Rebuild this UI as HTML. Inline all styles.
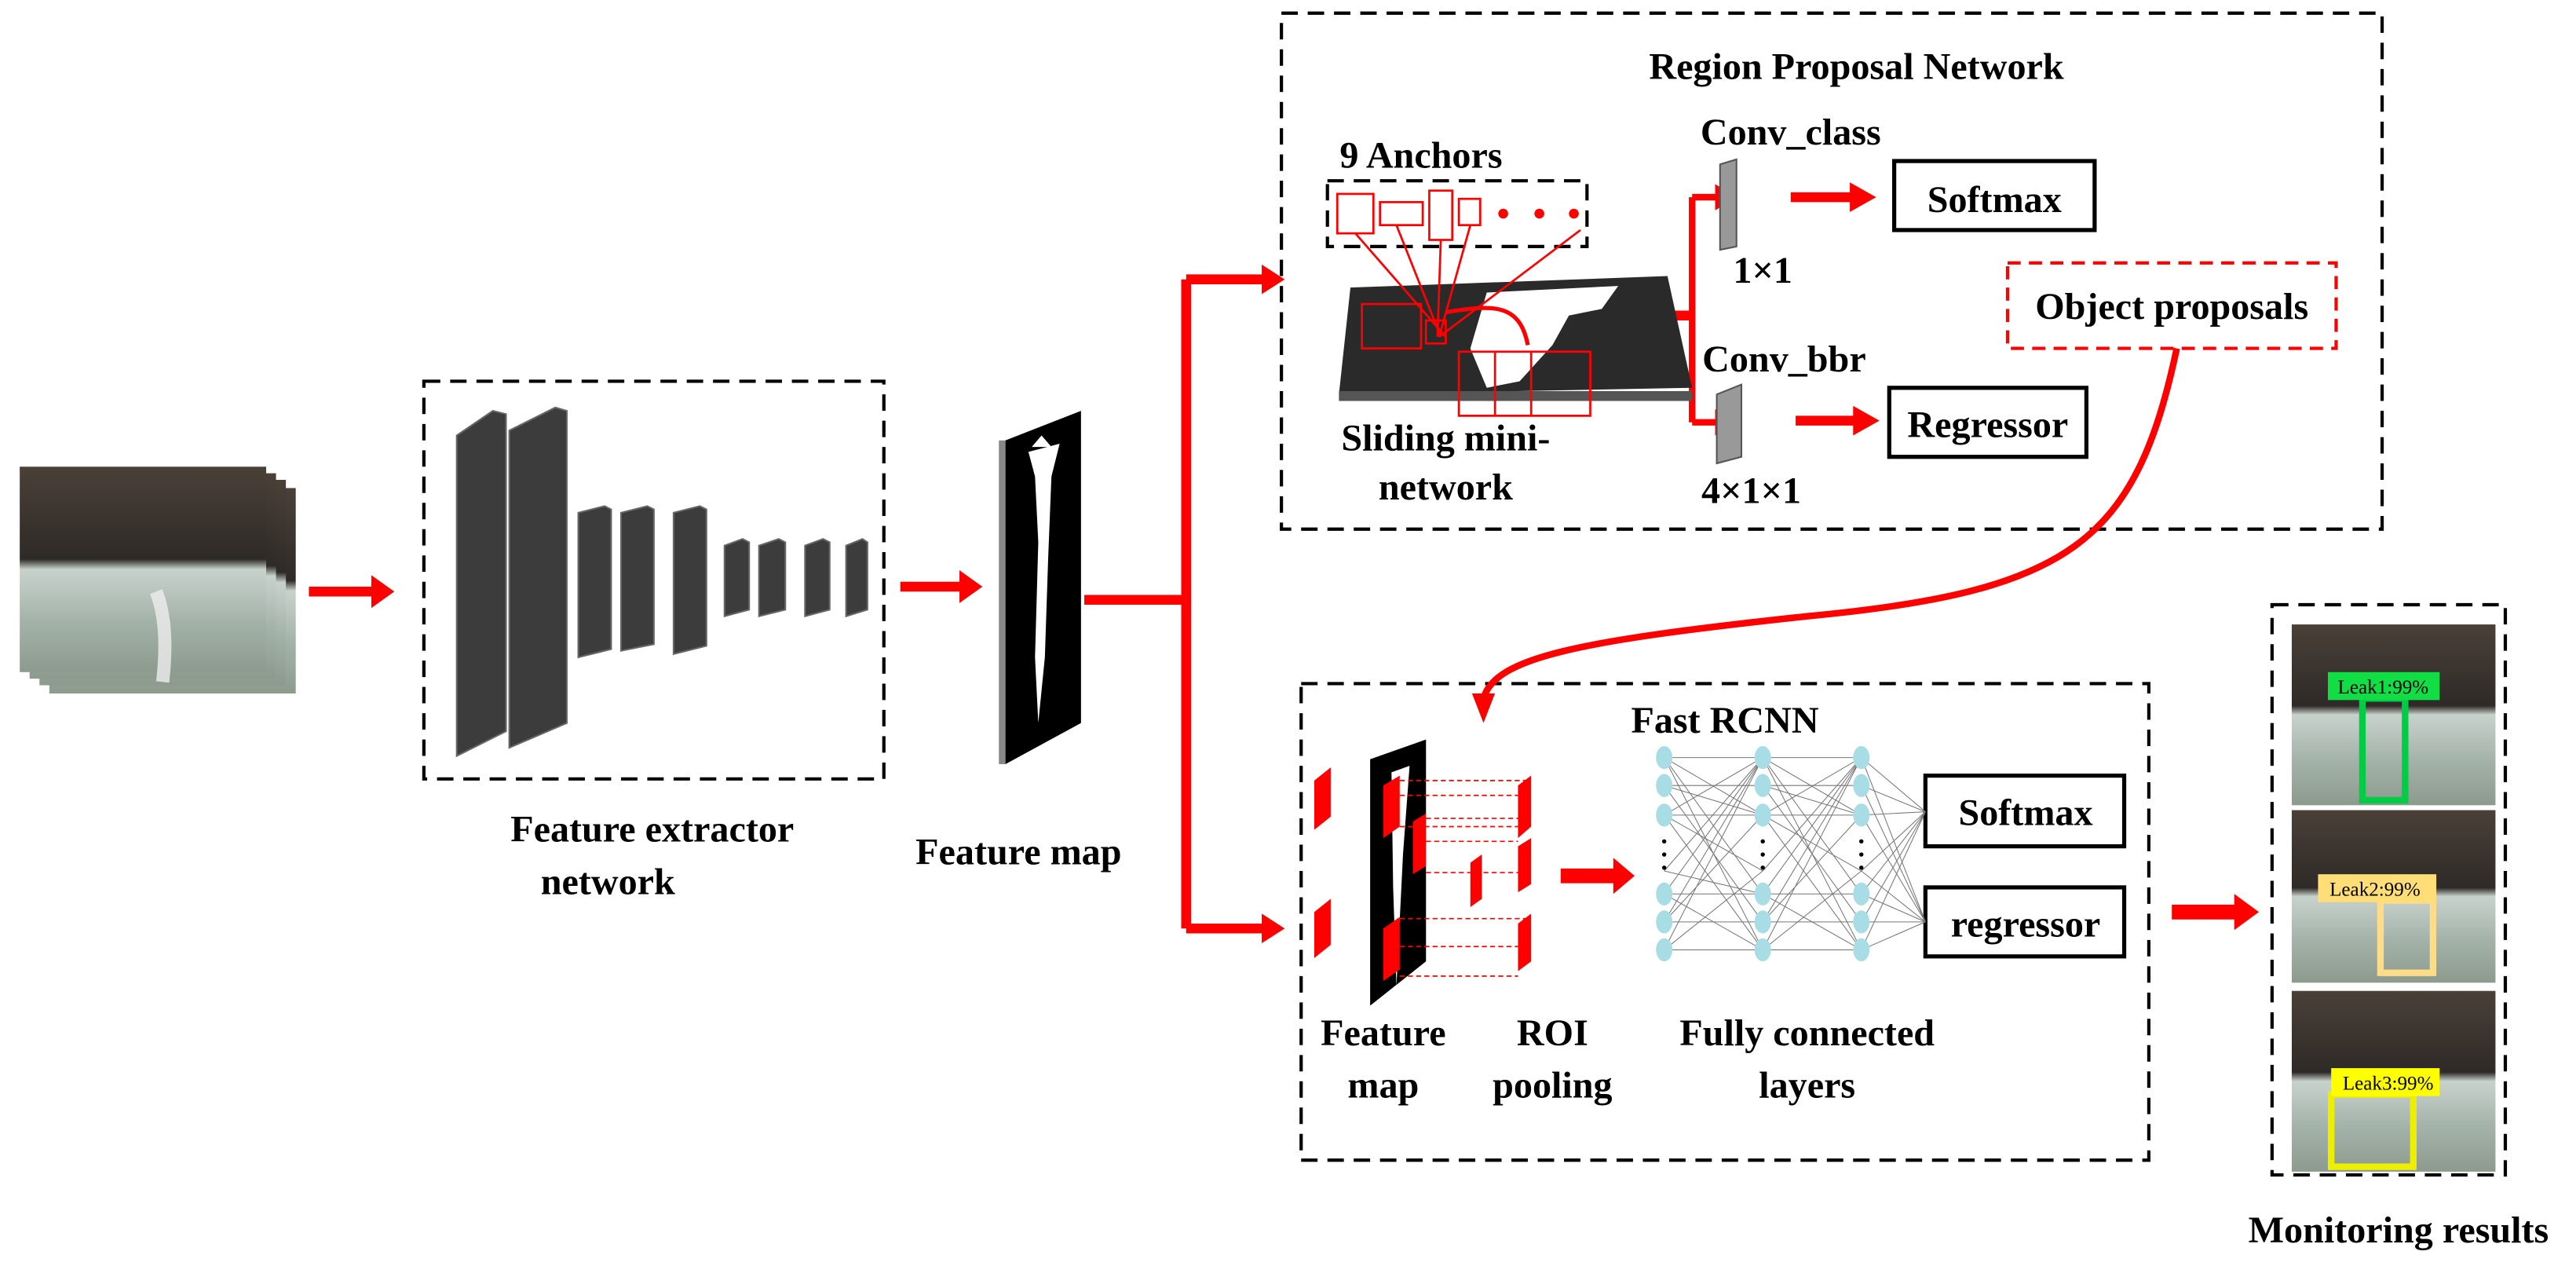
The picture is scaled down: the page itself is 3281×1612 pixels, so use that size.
<!DOCTYPE html>
<html><head><meta charset="utf-8"><style>html,body{margin:0;padding:0;background:#fff}svg{display:block}
text{font-family:"Liberation Serif","DejaVu Serif",serif;font-weight:bold}
.n{font-weight:normal}</style></head>
<body>
<svg width="3281" height="1612" viewBox="0 0 1568 770.4" xmlns="http://www.w3.org/2000/svg">
<defs>
<linearGradient id="ph" x1="0" y1="0" x2="0" y2="1">
<stop offset="0" stop-color="#4a4038"/><stop offset="0.45" stop-color="#2e2a27"/><stop offset="0.5" stop-color="#c8d2cc"/><stop offset="0.75" stop-color="#a4b3aa"/><stop offset="1" stop-color="#8d9a8e"/></linearGradient>
</defs>
<g fill="none" stroke="#000" stroke-width="2" stroke-dasharray="10,6">
<rect x="258" y="232" width="280" height="242"/>
<rect x="780" y="8" width="670" height="314"/>
<rect x="792" y="416" width="516" height="290"/>
<rect x="1383" y="368" width="142" height="347"/>
<rect x="808" y="110" width="158" height="40"/>
</g>
<rect x="30" y="297" width="150" height="125" fill="url(#ph)"/>
<rect x="24" y="292" width="150" height="125" fill="url(#ph)"/>
<rect x="18" y="288" width="150" height="125" fill="url(#ph)"/>
<rect x="12" y="284" width="150" height="125" fill="url(#ph)"/>
<path d="M95,360 q8,20 4,55" stroke="#eee" stroke-width="8" fill="none" opacity="0.8"/>
<g stroke="#f00" stroke-width="6" fill="none">
<line x1="188" y1="360" x2="228" y2="360"/>
<line x1="548" y1="357" x2="586" y2="357"/>
<polyline points="660,365 722,365"/>
<line x1="722" y1="170" x2="722" y2="565"/>
<line x1="722" y1="170" x2="770" y2="170"/>
<line x1="722" y1="565" x2="770" y2="565"/>
<line x1="1000" y1="192" x2="1030" y2="192"/>
<line x1="1030" y1="120" x2="1030" y2="257" stroke-width="4"/>
<line x1="1030" y1="120" x2="1046" y2="120" stroke-width="4"/>
<line x1="1030" y1="257" x2="1046" y2="257" stroke-width="4"/>
<line x1="1090" y1="120" x2="1128" y2="120"/>
<line x1="1093" y1="256" x2="1130" y2="256"/>
<line x1="950" y1="533" x2="984" y2="533" stroke-width="9"/>
<line x1="1322" y1="555" x2="1362" y2="555" stroke-width="9"/>
<path d="M1325,212 C1300,330 1260,360 1100,375 C960,390 910,400 903,425" stroke-width="4"/>
</g>
<g fill="#f00">
<path d="M226,350 L240,360 L226,370z"/><path d="M584,347 L598,357 L584,367z"/>
<path d="M768,161 L782,170 L768,179z"/><path d="M768,556 L782,565 L768,574z"/>
<path d="M1044,112 L1057,120 L1044,128z"/><path d="M1044,249 L1057,257 L1044,265z"/>
<path d="M1126,111 L1142,120 L1126,129z"/><path d="M1128,247 L1144,256 L1128,265z"/>
<path d="M982,522 L995,533 L982,544z"/><path d="M1360,544 L1375,555 L1360,566z"/>
<path d="M896,422 L903,440 L910,422z"/>
</g>
<g fill="#3c3c3c" stroke="#666" stroke-width="1">
<path d="M278,265 L300,250 L308,252 L308,445 L278,460z"/>
<path d="M310,262 L338,248 L345,250 L345,440 L310,455z"/>
<path d="M352,312 L368,308 L372,310 L372,395 L352,400z"/>
<path d="M378,312 L394,308 L398,310 L398,392 L378,396z"/>
<path d="M410,312 L426,308 L430,310 L430,393 L410,398z"/>
<path d="M441,332 L452,328 L456,330 L456,371 L441,375z"/>
<path d="M462,332 L474,328 L478,330 L478,371 L462,375z"/>
<path d="M490,332 L501,328 L505,330 L505,371 L490,375z"/>
<path d="M515,332 L525,328 L528,330 L528,371 L515,375z"/>
</g>
<path d="M612,268 L658,250 L658,440 L612,465z" fill="#000"/>
<rect x="608" y="268" width="4" height="197" fill="#888"/>
<path d="M626,275 L645,270 L640,290 L638,340 L636,400 L632,440 L630,400 L632,330 L630,290z" fill="#fff"/>
<path d="M628,272 L634,265 L640,272z" fill="#fff"/>
<path d="M822,175 L1015,168 L1030,236 L815,240z" fill="#2a2a2a"/>
<rect x="815" y="238" width="215" height="6" fill="#555"/>
<path d="M905,178 L985,174 L975,188 L955,192 L945,210 L925,232 L905,236 L895,212z" fill="#fff"/>
<g fill="none" stroke="#f00" stroke-width="1.3">
<rect x="814" y="118" width="22" height="24"/><rect x="840" y="123" width="26" height="14"/><rect x="870" y="116" width="14" height="30"/><rect x="888" y="121" width="13" height="16"/>
<rect x="829" y="185" width="36" height="27"/><rect x="868" y="195" width="12" height="14"/>
<rect x="888" y="214" width="80" height="39"/><line x1="910" y1="214" x2="910" y2="253"/><line x1="932" y1="214" x2="932" y2="253"/>
<line x1="825" y1="142" x2="880" y2="205"/><line x1="850" y1="137" x2="877" y2="205"/><line x1="877" y1="146" x2="875" y2="205"/><line x1="895" y1="137" x2="876" y2="205"/><line x1="962" y1="140" x2="876" y2="205"/>
<path d="M880,190 C910,185 925,185 930,210" stroke-width="2.5"/>
</g>
<g fill="#f00"><circle cx="915" cy="130" r="3"/><circle cx="937" cy="130" r="3"/><circle cx="958" cy="130" r="3"/></g>
<path d="M1047,100 L1057,97 L1057,150 L1047,152z" fill="#999" stroke="#555"/>
<path d="M1045,240 L1060,234 L1060,278 L1045,282z" fill="#999" stroke="#555"/>
<g fill="#fff" stroke="#000" stroke-width="2.5">
<rect x="1153" y="98" width="122" height="42"/><rect x="1150" y="236" width="120" height="42"/>
<rect x="1172" y="472" width="121" height="43"/><rect x="1172" y="540" width="121" height="42"/>
</g>
<rect x="1222" y="160" width="200" height="52" fill="none" stroke="#f00" stroke-width="2" stroke-dasharray="8,5"/>
<path d="M834,462 L868,450 L868,585 L834,612z" fill="#000"/>
<path d="M847,470 L858,466 L854,520 L850,600 L848,540z" fill="#fff"/>
<g fill="#f00">
<path d="M800,475 L810,467 L810,497 L800,505z"/><path d="M800,555 L810,547 L810,575 L800,583z"/>
<path d="M842,478 L852,472 L852,503 L842,510z"/><path d="M860,500 L868,495 L868,527 L860,532z"/>
<path d="M842,565 L852,558 L852,590 L842,597z"/>
<path d="M924,478 L932,472 L932,503 L924,510z"/><path d="M924,515 L932,510 L932,538 L924,543z"/><path d="M895,525 L902,520 L902,547 L895,552z"/><path d="M924,562 L932,556 L932,585 L924,591z"/>
</g>
<g stroke="#f00" stroke-width="0.8" stroke-dasharray="3,2" fill="none">
<line x1="852" y1="475" x2="932" y2="475"/><line x1="852" y1="503" x2="924" y2="503"/><line x1="852" y1="484" x2="924" y2="484"/>
<line x1="868" y1="498" x2="932" y2="498"/><line x1="868" y1="531" x2="924" y2="531"/><line x1="868" y1="512" x2="924" y2="512"/>
<line x1="852" y1="559" x2="932" y2="559"/><line x1="852" y1="594" x2="924" y2="594"/><line x1="852" y1="576" x2="924" y2="576"/>
</g>
<g stroke="#777" stroke-width="0.5">
<path d="M1013,461 L1073,496 M1013,461 L1073,544 M1013,461 L1073,578 M1013,496 L1073,461 M1013,496 L1073,530 M1013,496 L1073,578 M1013,530 L1073,461 M1013,530 L1073,544 M1013,544 L1073,461 M1013,544 L1073,578 M1013,561 L1073,496 M1013,561 L1073,461 M1013,578 L1073,461 M1013,578 L1073,530 M1013,478 L1073,561 M1013,478 L1073,496 M1013,461 L1073,461 M1013,478 L1073,478 M1013,496 L1073,496 M1013,544 L1073,544 M1013,561 L1073,561 M1013,578 L1073,578"/>
<path d="M1073,461 L1133,496 M1073,461 L1133,544 M1073,461 L1133,578 M1073,496 L1133,461 M1073,496 L1133,530 M1073,496 L1133,578 M1073,530 L1133,461 M1073,544 L1133,461 M1073,544 L1133,578 M1073,561 L1133,496 M1073,561 L1133,461 M1073,578 L1133,461 M1073,578 L1133,530 M1073,478 L1133,561 M1073,478 L1133,496 M1073,461 L1133,461 M1073,478 L1133,478 M1073,496 L1133,496 M1073,544 L1133,544 M1073,561 L1133,561 M1073,578 L1133,578"/>
<path d="M1133,461 L1172,494 M1133,478 L1172,494 M1133,496 L1172,494 M1133,530 L1172,494 M1133,544 L1172,494 M1133,561 L1172,494 M1133,578 L1172,494 M1133,461 L1172,561 M1133,478 L1172,561 M1133,496 L1172,561 M1133,530 L1172,561 M1133,544 L1172,561 M1133,561 L1172,561 M1133,578 L1172,561"/>
</g>
<g fill="#a8dde6">
<ellipse cx="1013" cy="461" rx="5" ry="7"/><ellipse cx="1013" cy="478" rx="5" ry="7"/><ellipse cx="1013" cy="496" rx="5" ry="7"/><ellipse cx="1013" cy="544" rx="5" ry="7"/><ellipse cx="1013" cy="561" rx="5" ry="7"/><ellipse cx="1013" cy="578" rx="5" ry="7"/>
<ellipse cx="1073" cy="461" rx="5" ry="7"/><ellipse cx="1073" cy="478" rx="5" ry="7"/><ellipse cx="1073" cy="496" rx="5" ry="7"/><ellipse cx="1073" cy="544" rx="5" ry="7"/><ellipse cx="1073" cy="561" rx="5" ry="7"/><ellipse cx="1073" cy="578" rx="5" ry="7"/>
<ellipse cx="1133" cy="461" rx="5" ry="7"/><ellipse cx="1133" cy="478" rx="5" ry="7"/><ellipse cx="1133" cy="496" rx="5" ry="7"/><ellipse cx="1133" cy="544" rx="5" ry="7"/><ellipse cx="1133" cy="561" rx="5" ry="7"/><ellipse cx="1133" cy="578" rx="5" ry="7"/>
</g>
<g fill="#000"><circle cx="1013" cy="512" r="1.3"/><circle cx="1013" cy="520" r="1.3"/><circle cx="1013" cy="528" r="1.3"/><circle cx="1073" cy="512" r="1.3"/><circle cx="1073" cy="520" r="1.3"/><circle cx="1073" cy="528" r="1.3"/><circle cx="1133" cy="512" r="1.3"/><circle cx="1133" cy="520" r="1.3"/><circle cx="1133" cy="528" r="1.3"/></g>
<rect x="1395" y="380" width="124" height="110" fill="url(#ph)"/>
<rect x="1395" y="493" width="124" height="105" fill="url(#ph)"/>
<rect x="1395" y="603" width="124" height="110" fill="url(#ph)"/>
<rect x="1438" y="425" width="26" height="62" fill="none" stroke="#0c4" stroke-width="4"/>
<rect x="1417" y="409" width="68" height="17" fill="#1d4"/>
<rect x="1449" y="548" width="32" height="44" fill="none" stroke="#fd8" stroke-width="4"/>
<rect x="1411" y="532" width="72" height="17" fill="#fd7"/>
<rect x="1419" y="666" width="50" height="44" fill="none" stroke="#ee0" stroke-width="4"/>
<rect x="1419" y="650" width="66" height="17" fill="#ff0"/>
<g font-size="12" fill="#000">
<text class="n" x="1423" y="422">Leak1:99%</text><text class="n" x="1418" y="545">Leak2:99%</text><text class="n" x="1426" y="663">Leak3:99%</text>
</g>
<g font-size="23" fill="#000" text-anchor="middle">
<text x="397" y="512">Feature extractor</text>
<text x="370" y="544">network</text>
<text x="620" y="526">Feature map</text>
<text x="1130" y="48">Region Proposal Network</text>
<text x="865" y="102">9 Anchors</text>
<text x="880" y="274">Sliding mini-</text>
<text x="880" y="304">network</text>
<text x="1090" y="88">Conv_class</text>
<text x="1073" y="172">1×1</text>
<text x="1086" y="226">Conv_bbr</text>
<text x="1066" y="306">4×1×1</text>
<text x="1214" y="129">Softmax</text>
<text x="1210" y="266">Regressor</text>
<text x="1322" y="194">Object proposals</text>
<text x="1050" y="446">Fast RCNN</text>
<text x="1233" y="502">Softmax</text>
<text x="1233" y="570">regressor</text>
<text x="842" y="636">Feature</text>
<text x="842" y="668">map</text>
<text x="945" y="636">ROI</text>
<text x="945" y="668">pooling</text>
<text x="1100" y="636">Fully connected</text>
<text x="1100" y="668">layers</text>
<text x="1460" y="756">Monitoring results</text>
</g>
</svg>
</body></html>
